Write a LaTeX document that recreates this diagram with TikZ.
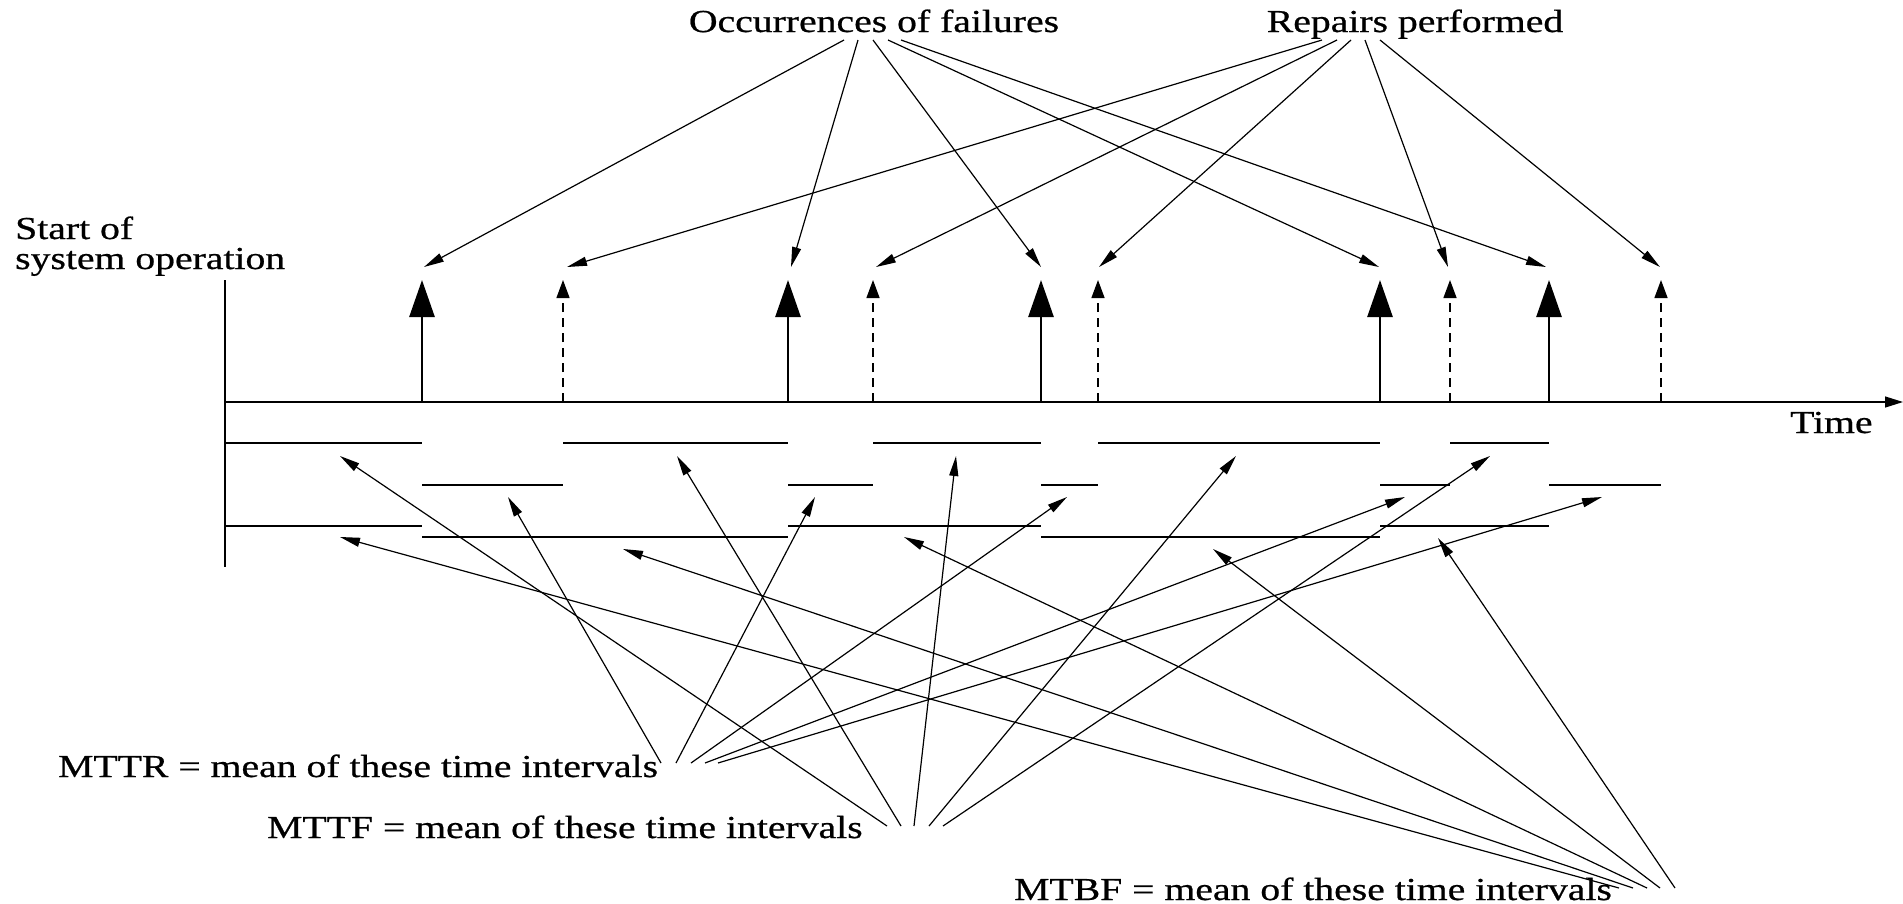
\documentclass[tikz,border=0pt]{standalone}
\usepackage{fontspec}
\setmainfont{Liberation Serif}
\newfontfamily\lblfont{Liberation Serif}[FakeBold=0.6]
\usetikzlibrary{arrows.meta}
\newcommand\stretched[1]{\scalebox{1.24}[1]{#1}}

\begin{document}
\begin{tikzpicture}[x=1pt, y=-1pt,
  lbl/.style={inner sep=0pt, font=\lblfont\fontsize{32}{32}\selectfont},
  pointer/.style={line width=1.2pt, -{Triangle[length=20pt,width=9pt]}},
  failure/.style={line width=2.7pt, -{Triangle[length=37pt,width=25pt]}},
  repair/.style={line width=1.3pt, dash pattern=on 9pt off 6pt, -{Triangle[length=18pt,width=13pt]}},
  interval/.style={line width=2.6pt},
  axisline/.style={line width=1.3pt},
]
\useasboundingbox (0,0) rectangle (1903,903);

% ---- labels ----
\node[lbl, anchor=base] (occ) at (874,32) {\stretched{Occurrences of failures}};
\node[lbl, anchor=base] (rep) at (1415,32) {\stretched{Repairs performed}};
\node[lbl, anchor=base west] (start) at (15,239) {\stretched{Start of}};
\node[lbl, anchor=base west] (sysop) at (15,269) {\stretched{system operation}};
\node[lbl, anchor=base west] (time) at (1790,433) {\stretched{Time}};
\node[lbl, anchor=base west] (mttr) at (58,777) {\stretched{MTTR = mean of these time intervals}};
\node[lbl, anchor=base west] (mttf) at (267,838) {\stretched{MTTF = mean of these time intervals}};
\node[lbl, anchor=base west] (mtbf) at (1014,900) {\stretched{MTBF = mean of these time intervals}};

% ---- time axis ----
\coordinate (O) at (225,402);
\coordinate (Otop) at (225,280);
\coordinate (Obot) at (225,567);
\coordinate (Tend) at (1903,402);
\draw[axisline] (Otop) -- (Obot);
\draw[axisline, -{Triangle[length=18pt,width=11pt]}] (O) -- (Tend);

% ---- failure and repair instants ----
\foreach \n/\x in {1/422,2/788,3/1041,4/1380,5/1549} {
  \coordinate (F\n) at (\x,402);
  \coordinate (Ft\n) at (\x,280);
}
\foreach \n/\x in {1/563,2/873,3/1098,4/1450,5/1661} {
  \coordinate (R\n) at (\x,402);
  \coordinate (Rt\n) at (\x,280);
}
\foreach \n in {1,...,5} {
  \draw[failure] (F\n) -- (Ft\n);
  \draw[repair] (R\n) -- (Rt\n);
}

% ---- interval rows ----
\coordinate (upY) at (0,443);
\coordinate (downY) at (0,485);
\coordinate (tbfA) at (0,526);
\coordinate (tbfB) at (0,537);
\foreach \a/\b in {O/F1,R1/F2,R2/F3,R3/F4,R4/F5}
  \draw[interval] (\a |- upY) -- (\b |- upY);
\foreach \a/\b in {F1/R1,F2/R2,F3/R3,F4/R4,F5/R5}
  \draw[interval] (\a |- downY) -- (\b |- downY);
\foreach \a/\b in {O/F1,F2/F3,F4/F5}
  \draw[interval] (\a |- tbfA) -- (\b |- tbfA);
\foreach \a/\b in {F1/F2,F3/F4}
  \draw[interval] (\a |- tbfB) -- (\b |- tbfB);

% ---- pointers from the upper labels ----
\foreach \n/\sx/\tx in {1/844/424,2/858/791,3/873/1041,4/888/1379,5/901/1546} {
  \coordinate (occ\n) at (\sx,40);
  \coordinate (ftip\n) at (\tx,267);
  \draw[pointer] (occ\n) -- (ftip\n);
}
\foreach \n/\sx/\tx in {1/1322/567,2/1337/876,3/1351/1099,4/1365/1448,5/1380/1660} {
  \coordinate (rep\n) at (\sx,40);
  \coordinate (rtip\n) at (\tx,267);
  \draw[pointer] (rep\n) -- (rtip\n);
}

% ---- pointers from the lower labels ----
\foreach \n/\sx/\tx in {1/661/508,2/676/815,3/691/1067,4/705/1405,5/718/1602} {
  \coordinate (mttr\n) at (\sx,763);
  \coordinate (ttr\n) at (\tx,497);
  \draw[pointer] (mttr\n) -- (ttr\n);
}
\foreach \n/\sx/\tx in {1/887/340,2/901/677,3/914/956,4/929/1236,5/943/1490} {
  \coordinate (mttf\n) at (\sx,826);
  \coordinate (ttf\n) at (\tx,456);
  \draw[pointer] (mttf\n) -- (ttf\n);
}
\foreach \n/\sx/\tx/\ty in {1/1619/340/537,2/1633/623/549,3/1647/904/537,4/1660/1213/549,5/1675/1438/538} {
  \coordinate (mtbf\n) at (\sx,888);
  \coordinate (tbf\n) at (\tx,\ty);
  \draw[pointer] (mtbf\n) -- (tbf\n);
}
\end{tikzpicture}
\end{document}
